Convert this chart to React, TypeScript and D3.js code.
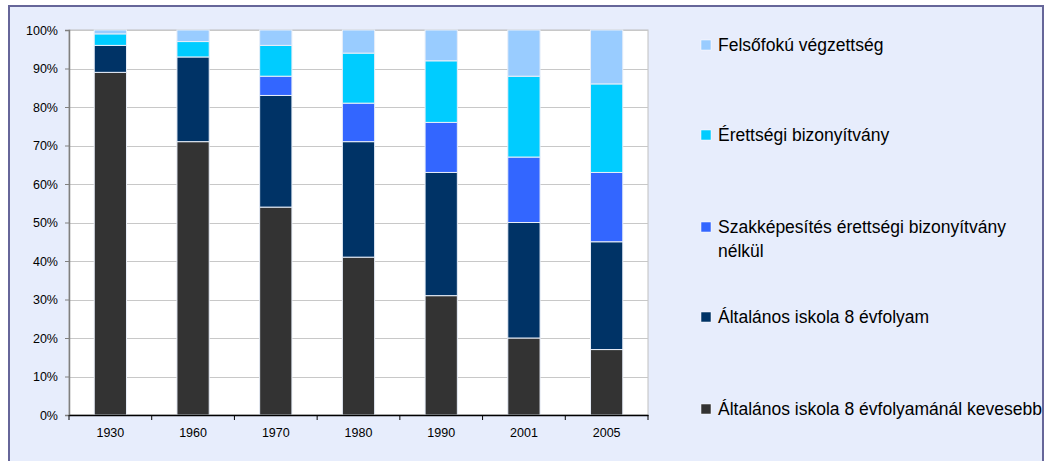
import { useEffect, useRef } from "react";
import * as d3 from "d3";

const years = ["1930", "1960", "1970", "1980", "1990", "2001", "2005"];
const lessThan8 = [89, 71, 54, 41, 31, 20, 17];
const school8 = [7, 22, 29, 30, 32, 30, 28];
const vocational = [0, 0, 5, 10, 13, 17, 18];
const matura = [3, 4, 8, 13, 16, 21, 23];
const higher = [1, 3, 4, 6, 8, 12, 14];

const seriesNames = [
  "Általános iskola 8 évfolyamánál kevesebb",
  "Általános iskola 8 évfolyam",
  "Szakképesítés érettségi bizonyítvány nélkül",
  "Érettségi bizonyítvány",
  "Felsőfokú végzettség",
];
const seriesValues = [lessThan8, school8, vocational, matura, higher];
const colors = ["#333333", "#003366", "#3366FF", "#00CCFF", "#99CCFF"];

const App = () => {
  const svgRef = useRef<SVGSVGElement | null>(null);

  useEffect(() => {
    const svg = d3.select(svgRef.current);
    svg.selectAll("*").remove();

    const width = 1045;
    const height = 461;
    const font = "'Liberation Sans', Arial, sans-serif";

    svg.attr("width", width).attr("height", height).style("font-family", font);

    // outer frame
    svg.append("rect").attr("width", width).attr("height", height).attr("fill", "#ffffff");
    svg
      .append("rect")
      .attr("x", 9)
      .attr("y", 6)
      .attr("width", 1034)
      .attr("height", 470)
      .attr("fill", "#E7EDFC")
      .attr("stroke", "#666699")
      .attr("stroke-width", 2);

    const plot = { left: 69, top: 30, right: 648, bottom: 415 };

    const x = d3.scaleBand().domain(years).range([plot.left, plot.right]).paddingInner(0.61).paddingOuter(0.305);
    const y = d3.scaleLinear().domain([0, 100]).range([plot.bottom, plot.top]);

    svg
      .append("rect")
      .attr("x", plot.left)
      .attr("y", plot.top)
      .attr("width", plot.right - plot.left)
      .attr("height", plot.bottom - plot.top)
      .attr("fill", "#ffffff")
      .attr("stroke", "#C0C0C0")
      .attr("stroke-width", 1);

    // gridlines
    svg
      .append("g")
      .selectAll("line")
      .data(d3.range(10, 101, 10))
      .enter()
      .append("line")
      .attr("x1", plot.left)
      .attr("x2", plot.right)
      .attr("y1", (d) => Math.round(y(d)) + 0.5)
      .attr("y2", (d) => Math.round(y(d)) + 0.5)
      .attr("stroke", "#C8C8C8")
      .attr("stroke-width", 1);

    // stacked bars
    const rows = years.map((yr, i) => {
      const row: any = { year: yr };
      seriesNames.forEach((n, s) => (row[n] = seriesValues[s][i]));
      return row;
    });
    const stack = d3.stack<any>().keys(seriesNames)(rows);

    stack.forEach((layer, s) => {
      svg
        .append("g")
        .selectAll("rect")
        .data(layer.filter((d) => d[1] - d[0] > 0))
        .enter()
        .append("rect")
        .attr("x", (d) => x(d.data.year) as number)
        .attr("width", x.bandwidth())
        .attr("y", (d) => y(d[1]))
        .attr("height", (d) => y(d[0]) - y(d[1]))
        .attr("fill", colors[s])
        .attr("stroke", "#E8EEF8")
        .attr("stroke-width", 1);
    });

    // y axis
    const yAxis = svg
      .append("g")
      .attr("transform", `translate(${plot.left},0)`)
      .call(
        d3
          .axisLeft(y)
          .tickValues(d3.range(0, 101, 10))
          .tickSize(4)
          .tickPadding(7)
          .tickFormat((d) => `${d}%`)
      );
    yAxis.select(".domain").attr("stroke", "#808080").attr("stroke-width", 1.5);
    yAxis.selectAll(".tick line").attr("stroke", "#808080");
    yAxis.selectAll("text").style("font-size", "12.5px").style("font-family", font).attr("fill", "#000");

    // x axis
    const xAxis = svg
      .append("g")
      .attr("transform", `translate(0,${plot.bottom})`)
      .call(d3.axisBottom(x).tickSize(0).tickPadding(13));
    xAxis.select(".domain").attr("stroke", "#000").attr("stroke-width", 1.5);
    xAxis.selectAll("text").style("font-size", "12.5px").style("font-family", font).attr("fill", "#000");

    const step = x.step();
    svg
      .append("g")
      .selectAll("line")
      .data(d3.range(0, years.length + 1))
      .enter()
      .append("line")
      .attr("x1", (k) => plot.left + k * step)
      .attr("x2", (k) => plot.left + k * step)
      .attr("y1", plot.bottom)
      .attr("y2", plot.bottom + 5)
      .attr("stroke", "#000");

    // legend (top to bottom, reversed)
    const legendItems = [
      { i: 4, y: 45, lines: ["Felsőfokú végzettség"] },
      { i: 3, y: 135, lines: ["Érettségi bizonyítvány"] },
      { i: 2, y: 227, lines: ["Szakképesítés érettségi bizonyítvány", "nélkül"] },
      { i: 1, y: 317, lines: ["Általános iskola 8 évfolyam"] },
      { i: 0, y: 409, lines: ["Általános iskola 8 évfolyamánál kevesebb"] },
    ];
    const lg = svg.append("g");
    legendItems.forEach((item) => {
      lg.append("rect")
        .attr("x", 701)
        .attr("y", item.y - 5)
        .attr("width", 10)
        .attr("height", 10)
        .attr("fill", colors[item.i])
        .attr("stroke", "#ffffff")
        .attr("stroke-width", 0.5);
      item.lines.forEach((ln, j) => {
        lg.append("text")
          .attr("x", 718)
          .attr("y", item.y + j * 24)
          .attr("dy", "0.35em")
          .style("font-size", "17.5px")
          .style("font-family", font)
          .attr("fill", "#000")
          .text(ln);
      });
    });
  }, []);

  return (
    <div style={{ position: "absolute", left: 0, top: 0 }}>
      <svg ref={svgRef} style={{ display: "block" }} />
    </div>
  );
};

export default App;
